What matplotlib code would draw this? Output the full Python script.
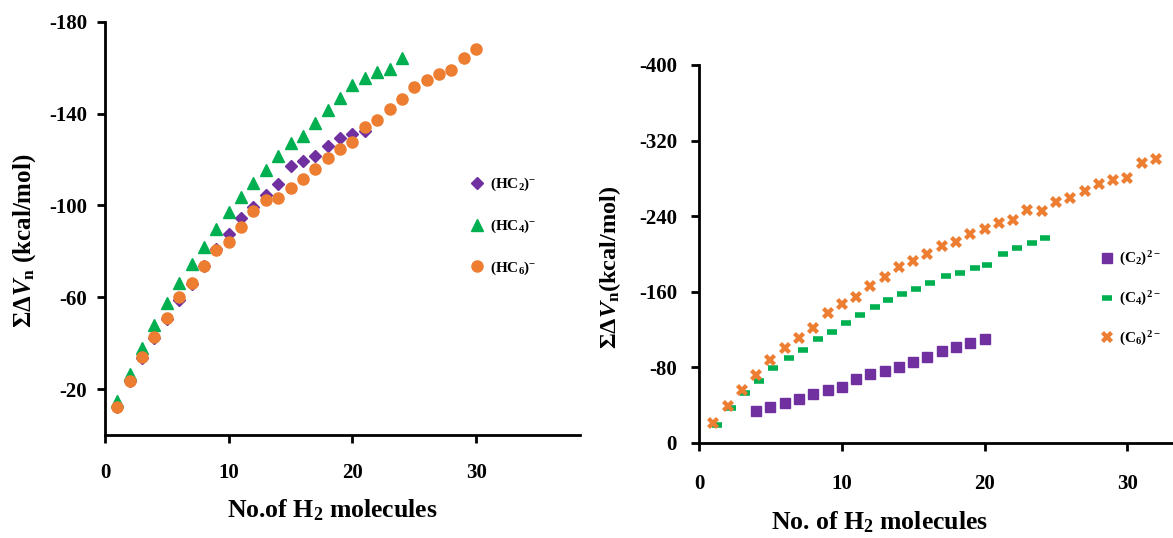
import matplotlib
matplotlib.use("Agg")
import matplotlib.pyplot as plt
import numpy as np

plt.rcParams['font.family'] = ['Liberation Serif', 'DejaVu Serif']
plt.rcParams['font.weight'] = 'bold'
plt.rcParams['axes.unicode_minus'] = False
plt.rcParams['mathtext.fontset'] = 'custom'
plt.rcParams['mathtext.rm'] = 'Liberation Serif:bold'
plt.rcParams['mathtext.it'] = 'Liberation Serif:bold:italic'
plt.rcParams['mathtext.bf'] = 'Liberation Serif:bold'

# left panel: (HCn)- anions
hc2 = [-12.4, -23.4, -33.6, -42.2, -50.5, -58.8, -65.6, -73.6, -81.0, -87.7,
       -94.7, -99.5, -104.6, -109.5, -117.4, -119.3, -121.7, -126.0, -129.5,
       -131.3, -132.6]
hc4 = [-15.0, -26.7, -37.9, -47.8, -57.3, -66.3, -74.3, -82.0, -89.9, -97.3,
       -103.9, -110.0, -115.5, -121.5, -127.3, -130.3, -135.8, -141.5, -147.0,
       -152.5, -155.6, -158.1, -159.5, -164.2]
hc6 = [-12.4, -23.6, -34.0, -42.5, -51.0, -60.0, -66.3, -73.8, -80.4, -84.1,
       -90.7, -97.4, -102.5, -103.4, -107.7, -111.5, -116.1, -120.9, -124.4,
       -127.8, -134.0, -137.4, -142.1, -146.4, -151.5, -154.8, -157.4, -159.2,
       -164.2, -168.3]

# right panel: (Cn)2- dianions
c2_x = [4, 5, 6, 7, 8, 9, 10, 11, 12, 13, 14, 15, 16, 17, 18, 19, 20]
c2 = [-34.2, -38.4, -42.6, -46.6, -51.9, -56.0, -59.6, -67.4, -72.7, -76.5,
      -80.1, -86.0, -91.3, -97.7, -101.3, -105.5, -109.7]
c4_x = [1.25, 2.2, 3.2, 4.2, 5.2, 6.3, 7.3, 8.3, 9.3, 10.3, 11.3, 12.3, 13.2,
        14.2, 15.2, 16.2, 17.3, 18.3, 19.3, 20.2, 21.3, 22.3, 23.3, 24.2]
c4 = [-19.0, -37.4, -52.6, -65.9, -79.7, -90.3, -98.4, -109.7, -117.8, -127.3,
      -135.4, -144.2, -151.5, -157.7, -162.6, -169.6, -176.7, -179.6, -184.9,
      -188.4, -200.0, -206.7, -212.0, -216.6]
c6 = [-20.8, -39.5, -56.0, -72.0, -87.8, -100.2, -111.4, -122.0, -137.2, -146.8,
      -154.2, -166.1, -176.0, -186.6, -192.6, -199.7, -208.8, -212.4, -220.8,
      -226.1, -232.5, -236.0, -246.6, -245.5, -255.3, -259.0, -266.7, -273.8,
      -278.3, -280.8, -296.0, -300.2]

purple = '#7030A0'
green = '#00B050'
orange = '#ED7D31'

fig = plt.figure(figsize=(11.73, 5.38), dpi=100)
ax1 = fig.add_axes([0.0895, 0.1914, 0.405, 0.768])
ax2 = fig.add_axes([0.596, 0.1766, 0.404, 0.7026])

ax1.plot(range(1, len(hc2) + 1), hc2, 'D', color=purple, ms=6.5, ls='none', label='(HC$_2$)$^{-}$')
ax1.plot(range(1, len(hc4) + 1), hc4, '^', color=green, ms=8, ls='none', label='(HC$_4$)$^{-}$')
ax1.plot(range(1, len(hc6) + 1), hc6, 'o', color=orange, ms=8, ls='none', label='(HC$_6$)$^{-}$')

ax2.plot(c2_x, c2, 's', color=purple, ms=6.5, ls='none', label='(C$_2$)$^{2-}$')
ax2.plot(c4_x, c4, '_', color=green, ms=7, mew=4, ls='none', label='(C$_4$)$^{2-}$')
ax2.plot(range(1, len(c6) + 1), c6, 'X', color=orange, ms=8.5, mew=0, ls='none', label='(C$_6$)$^{2-}$')

ax1.set_xlim(0, 38.4)
ax1.set_ylim(0, -180)
ax1.set_xticks([0, 10, 20, 30])
ax1.set_yticks([-20, -60, -100, -140, -180])
ax2.set_xlim(0, 33.2)
ax2.set_ylim(0, -400)
ax2.set_xticks([0, 10, 20, 30])
ax2.set_yticks([0, -80, -160, -240, -320, -400])

for ax in (ax1, ax2):
    for s in ('top', 'right'):
        ax.spines[s].set_visible(False)
    for s in ('left', 'bottom'):
        ax.spines[s].set_linewidth(2)
    ax.tick_params(axis='both', width=2, length=6, labelsize=15)
    for lab in ax.get_xticklabels() + ax.get_yticklabels():
        lab.set_fontweight('bold')

ax1.tick_params(axis='x', pad=14)
ax1.tick_params(axis='y', pad=7)
ax2.tick_params(axis='x', pad=16)
ax2.tick_params(axis='y', pad=10)

ax1.set_xlabel('No.of H$_2$ molecules', fontsize=18.5, fontweight='bold')
ax1.xaxis.set_label_coords(0.478, -0.15)
ax1.set_ylabel(r'$\Sigma\Delta V_\mathrm{n}$ (kcal/mol)', fontsize=18, fontweight='bold')
ax1.yaxis.set_label_coords(-0.14, 0.47)

ax2.set_xlabel('No. of H$_2$ molecules', fontsize=18.5, fontweight='bold')
ax2.xaxis.set_label_coords(0.38, -0.175)
ax2.set_ylabel(r'$\Sigma\Delta V_\mathrm{n}$(kcal/mol)', fontsize=17.5, fontweight='bold')
ax2.yaxis.set_label_coords(-0.16, 0.465)

ax1.legend(loc='upper left', bbox_to_anchor=(0.766, 0.627), frameon=False,
           fontsize=11, handlelength=1, handletextpad=0.4, labelspacing=1.6,
           borderpad=0, borderaxespad=0)
ax2.legend(loc='upper left', bbox_to_anchor=(0.844, 0.51), frameon=False,
           fontsize=11, handlelength=1, handletextpad=0.3, labelspacing=1.4,
           borderpad=0, borderaxespad=0)

fig.savefig('out.png', dpi=100)
